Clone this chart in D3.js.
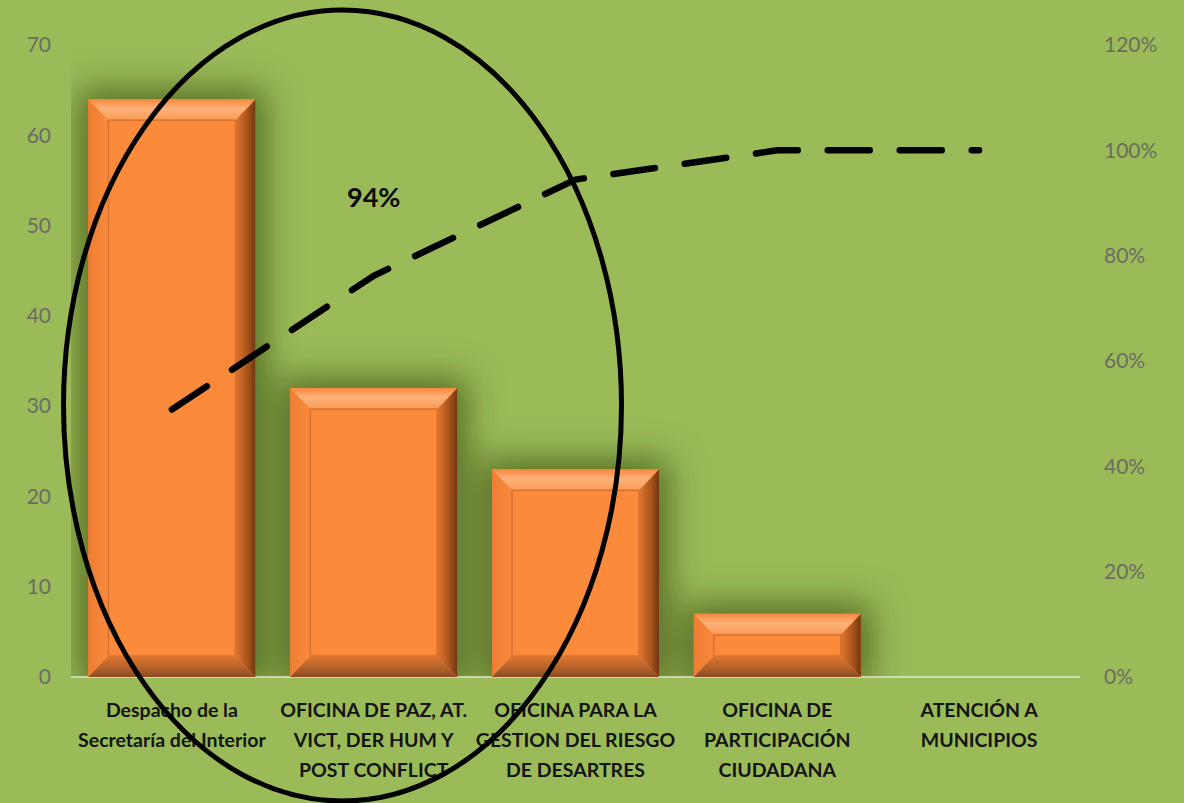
<!DOCTYPE html>
<html>
<head>
<meta charset="utf-8">
<script src="https://cdn.jsdelivr.net/npm/d3@7"></script>
<style>
  html, body { margin: 0; padding: 0; background: #9bbb59; }
  svg { display: block; }
</style>
</head>
<body>
<svg id="chart" width="1184" height="803"></svg>
<script>
// Pareto data: requests per office
const categories = [
  "Despacho de la Secretaría del Interior",
  "OFICINA DE PAZ, AT. VICT, DER HUM Y POST CONFLICT",
  "OFICINA PARA LA GESTION DEL RIESGO DE DESARTRES",
  "OFICINA DE PARTICIPACIÓN CIUDADANA",
  "ATENCIÓN A MUNICIPIOS"
];
const categoryLines = [
  ["Despacho de la", "Secretaría del Interior"],
  ["OFICINA DE PAZ, AT.", "VICT, DER HUM Y", "POST CONFLICT"],
  ["OFICINA PARA LA", "GESTION DEL RIESGO", "DE DESARTRES"],
  ["OFICINA DE", "PARTICIPACIÓN", "CIUDADANA"],
  ["ATENCIÓN A", "MUNICIPIOS"]
];
const values = [64, 32, 23, 7, 0];
const leftTicks = [0, 10, 20, 30, 40, 50, 60, 70];
const rightTicks = [0, 0.2, 0.4, 0.6, 0.8, 1.0, 1.2];

// cumulative share for the Pareto line
const total = d3.sum(values);
const cumulative = Array.from(d3.cumsum(values), v => v / total);

const svg = d3.select("#chart");
const plot = { left: 71, right: 1080, top: 45, bottom: 677 };

const x = d3.scaleBand()
  .domain(categories)
  .range([plot.left, plot.right])
  .paddingInner(0.1725)
  .paddingOuter(0.08625);
const y = d3.scaleLinear().domain([0, 70]).range([plot.bottom, plot.top]);
const y2 = d3.scaleLinear().domain([0, 1.2]).range([plot.bottom, plot.top]);

const defs = svg.append("defs");
defs.append("clipPath").attr("id", "plotClip")
  .append("rect")
  .attr("x", plot.left).attr("y", plot.top)
  .attr("width", plot.right - plot.left).attr("height", plot.bottom - plot.top);

const shadow = defs.append("filter").attr("id", "glow")
  .attr("x", "-60%").attr("y", "-60%").attr("width", "220%").attr("height", "220%");
shadow.append("feMorphology").attr("in", "SourceAlpha").attr("operator", "dilate").attr("radius", 10).attr("result", "d");
shadow.append("feGaussianBlur").attr("in", "d").attr("stdDeviation", 17).attr("result", "b");
shadow.append("feFlood").attr("flood-color", "#2c3d0e").attr("flood-opacity", 0.62).attr("result", "f");
shadow.append("feComposite").attr("in", "f").attr("in2", "b").attr("operator", "in");

function grad(id, x1, y1, x2, y2, stops) {
  const g = defs.append("linearGradient").attr("id", id)
    .attr("x1", x1).attr("y1", y1).attr("x2", x2).attr("y2", y2);
  stops.forEach(([o, c]) => g.append("stop").attr("offset", o).attr("stop-color", c));
}
grad("bevTop", 0, 1, 0, 0, [[0, "#fb9a55"], [0.55, "#fdb27a"], [1, "#f7873c"]]);
grad("bevRight", 0, 0, 1, 0, [[0, "#e2762f"], [0.6, "#a9541c"], [1, "#6f3710"]]);
grad("bevBottom", 0, 0, 0, 1, [[0, "#e0772f"], [0.6, "#b1602a"], [1, "#8a4a22"]]);
grad("bevLeft", 0, 0, 1, 0, [[0, "#ee7d33"], [1, "#f98a3c"]]);

// soft shadow behind bars
svg.append("g").attr("clip-path", "url(#plotClip)")
  .append("g").attr("filter", "url(#glow)")
  .selectAll("rect").data(values.map((v, i) => ({ v, c: categories[i] })).filter(d => d.v > 0))
  .join("rect")
  .attr("x", d => x(d.c)).attr("y", d => y(d.v))
  .attr("width", x.bandwidth()).attr("height", d => y(0) - y(d.v))
  .attr("fill", "#000");

// baseline
svg.append("line")
  .attr("x1", plot.left).attr("x2", plot.right)
  .attr("y1", plot.bottom).attr("y2", plot.bottom)
  .attr("stroke", "#dfe6cf").attr("stroke-width", 1.5);

// bevelled bars
const bars = svg.append("g")
  .selectAll("g").data(values.map((v, i) => ({ v, c: categories[i] })).filter(d => d.v > 0))
  .join("g");

bars.each(function (d) {
  const g = d3.select(this);
  const x0 = x(d.c), x1 = x0 + x.bandwidth();
  const y0 = y(d.v), y1 = y(0);
  const b = Math.min(20, (y1 - y0) / 3);
  const ix0 = x0 + b, ix1 = x1 - b, iy0 = y0 + b + 1, iy1 = y1 - b - 1;
  g.append("rect").attr("x", x0).attr("y", y0).attr("width", x1 - x0).attr("height", y1 - y0).attr("fill", "#f98a3c");
  const poly = (pts, fill) => g.append("polygon").attr("points", pts.map(p => p.join(",")).join(" ")).attr("fill", fill);
  poly([[x0, y0], [ix0, iy0], [ix0, iy1], [x0, y1]], "url(#bevLeft)");
  poly([[x1, y0], [x1, y1], [ix1, iy1], [ix1, iy0]], "url(#bevRight)");
  poly([[x0, y1], [ix0, iy1], [ix1, iy1], [x1, y1]], "url(#bevBottom)");
  poly([[x0, y0], [x1, y0], [ix1, iy0], [ix0, iy0]], "url(#bevTop)");
  g.append("rect").attr("x", ix0).attr("y", iy0).attr("width", ix1 - ix0).attr("height", iy1 - iy0)
    .attr("fill", "#fa8a3c").attr("stroke", "#d8712d").attr("stroke-width", 1.5);
  g.append("rect").attr("x", ix0 + 3).attr("y", iy0 + 2).attr("width", ix1 - ix0 - 6).attr("height", iy1 - iy0 - 4)
    .attr("fill", "#fb8a3b");
});

// axes
const tickFont = "Lato, 'Open Sans', sans-serif";
const leftAxis = svg.append("g")
  .attr("transform", `translate(${plot.left},0)`)
  .call(d3.axisLeft(y).tickValues(leftTicks).tickSize(0).tickPadding(20));
leftAxis.select(".domain").remove();
leftAxis.selectAll("text").attr("font-family", tickFont).attr("font-size", 21).attr("fill", "#6a6d62");

const rightAxis = svg.append("g")
  .attr("transform", `translate(${plot.right},0)`)
  .call(d3.axisRight(y2).tickValues(rightTicks).tickFormat(d3.format(".0%")).tickSize(0).tickPadding(24));
rightAxis.select(".domain").remove();
rightAxis.selectAll("text").attr("font-family", tickFont).attr("font-size", 21).attr("fill", "#6a6d62");

// category labels
const catG = svg.append("g");
categories.forEach((c, i) => {
  const t = catG.append("text")
    .attr("x", x(c) + x.bandwidth() / 2)
    .attr("text-anchor", "middle")
    .attr("font-family", tickFont).attr("font-weight", "bold").attr("font-size", 19.5)
    .attr("fill", "#141414");
  categoryLines[i].forEach((ln, j) => {
    t.append("tspan").attr("x", x(c) + x.bandwidth() / 2).attr("y", plot.bottom + 40 + j * 30).text(ln);
  });
});

// cumulative line
const line = d3.line()
  .x((d, i) => x(categories[i]) + x.bandwidth() / 2)
  .y(d => y2(d));
svg.append("path")
  .datum(cumulative)
  .attr("d", line)
  .attr("fill", "none")
  .attr("stroke", "#000")
  .attr("stroke-width", 6.5)
  .attr("stroke-linecap", "round")
  .attr("stroke-dasharray", "42 30");

// share covered by the first three offices
svg.append("text")
  .attr("x", x(categories[1]) + x.bandwidth() / 2)
  .attr("y", 207)
  .attr("text-anchor", "middle")
  .attr("font-family", tickFont).attr("font-weight", "bold").attr("font-size", 27)
  .attr("fill", "#0a0a0a")
  .text(d3.format(".0%")(cumulative[2]));

// highlight ring around the leading offices
svg.append("ellipse")
  .attr("cx", 342.5).attr("cy", 405.5)
  .attr("rx", 279).attr("ry", 395.5)
  .attr("fill", "none")
  .attr("stroke", "#000")
  .attr("stroke-width", 5);
</script>
</body>
</html>
